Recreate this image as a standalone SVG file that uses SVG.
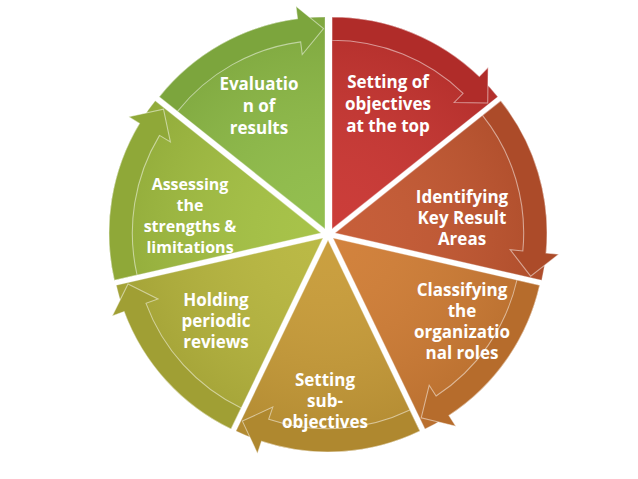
<svg xmlns="http://www.w3.org/2000/svg" width="638" height="479" viewBox="0 0 638 479">
<style>
.t{font-family:"Open Sans","DejaVu Sans",sans-serif;font-weight:bold;font-size:17px;fill:#fff;text-anchor:middle}
.s{font-size:16px}
.w{stroke:#fff;stroke-opacity:.35;stroke-width:1}
.ov{fill:#000;fill-opacity:.12;stroke:#fff;stroke-opacity:.5;stroke-width:1}
</style>
<defs>
<radialGradient id="sh" cx="0" cy="0" r="210" gradientUnits="userSpaceOnUse">
<stop offset="0" stop-color="#fff" stop-opacity=".05"/>
<stop offset="1" stop-color="#000" stop-opacity=".12"/>
</radialGradient>
<g id="seg">
<path class="w" d="M0,0 L0,-200 A200,200 0 0 1 156.4,-124.7 Z"/>
<path d="M0,0 L0,-200 A200,200 0 0 1 156.4,-124.7 Z" fill="url(#sh)"/>
<path d="M0,-200 A200,200 0 0 1 138.9,-143.9 L147.3,-152.5 L146.9,-118.9 L115.3,-119.4 L123.7,-128 A178,178 0 0 0 0,-178 Z"/>
<path class="ov" d="M0,-200 A200,200 0 0 1 138.9,-143.9 L147.3,-152.5 L146.9,-118.9 L115.3,-119.4 L123.7,-128 A178,178 0 0 0 0,-178 Z"/>
</g>
</defs>
<rect width="638" height="479" fill="#fff"/>
<g id="n1" fill="#c9332f"><use href="#seg" transform="translate(332,229) scale(1.06)"/></g>
<g id="n2" fill="#c4562f"><use href="#seg" transform="translate(335,233) rotate(51.43) scale(1.06)"/></g>
<g id="n3" fill="#d07c33"><use href="#seg" transform="translate(333,238) rotate(102.86) scale(1.06)"/></g>
<g id="n4" fill="#c89b36"><use href="#seg" transform="translate(328,240) rotate(154.29) scale(1.06)"/></g>
<g id="n5" fill="#b7b63c"><use href="#seg" transform="translate(323,238) rotate(205.71) scale(1.06)"/></g>
<g id="n6" fill="#a3c040"><use href="#seg" transform="translate(321,233) rotate(257.14) scale(1.06)"/></g>
<g id="n7" fill="#8ebc46"><use href="#seg" transform="translate(325,229) rotate(308.57) scale(1.06)"/></g>
<g id="labels">
<text class="t" x="388" y="88">Setting of<tspan x="388" dy="22">objectives</tspan><tspan x="388" dy="22">at the top</tspan></text>
<text class="t" x="462" y="203">Identifying<tspan x="462" dy="21">Key Result</tspan><tspan x="462" dy="21">Areas</tspan></text>
<text class="t" x="462" y="296">Classifying<tspan x="462" dy="21">the</tspan><tspan x="462" dy="21">organizatio</tspan><tspan x="462" dy="21">nal roles</tspan></text>
<text class="t" x="325" y="386">Setting<tspan x="325" dy="21">sub-</tspan><tspan x="325" dy="21">objectives</tspan></text>
<text class="t" x="216" y="306">Holding<tspan x="216" dy="21">periodic</tspan><tspan x="216" dy="21">reviews</tspan></text>
<text class="t s" x="190" y="190">Assessing<tspan x="190" dy="21">the</tspan><tspan x="190" dy="21">strengths &amp;</tspan><tspan x="190" dy="21">limitations</tspan></text>
<text class="t" x="259" y="90">Evaluatio<tspan x="259" dy="22">n of</tspan><tspan x="259" dy="22">results</tspan></text>
</g>
<g id="connectors"/>
</svg>
